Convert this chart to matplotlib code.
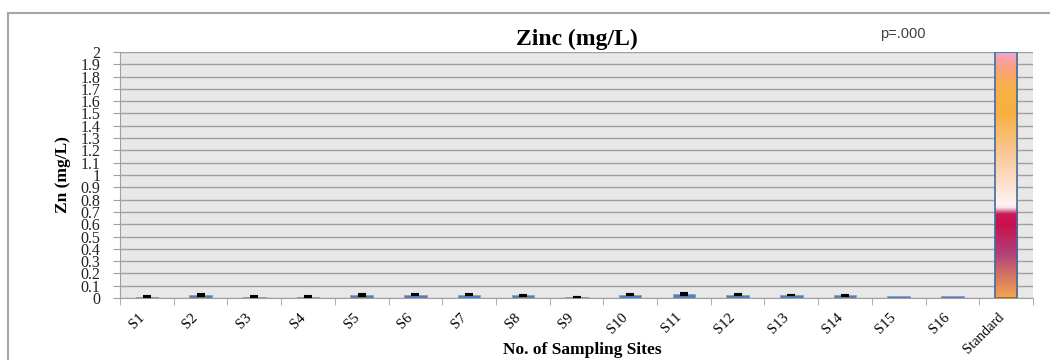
import numpy as np
import matplotlib
matplotlib.use("Agg")
import matplotlib.pyplot as plt
from matplotlib.colors import LinearSegmentedColormap
from matplotlib.patches import Rectangle

# values (mg/L)
sites = ['S1', 'S2', 'S3', 'S4', 'S5', 'S6', 'S7', 'S8', 'S9', 'S10',
         'S11', 'S12', 'S13', 'S14', 'S15', 'S16', 'Standard']
zn_mean = [0.010, 0.025, 0.010, 0.010, 0.025, 0.026, 0.025, 0.021, 0.008, 0.025,
           0.034, 0.028, 0.025, 0.022, 0.020, 0.020, 2.0]
zn_err = [0.003, 0.006, 0.003, 0.003, 0.006, 0.004, 0.004, 0.004, 0.003, 0.004,
          0.007, 0.006, 0.003, 0.005, 0.0, 0.0, 0.0]
y_ticks = [round(v * 0.1, 1) for v in range(21)]
p_text = 'p=.000'

serif = ['Liberation Serif', 'DejaVu Serif']
sans = ['Liberation Sans', 'DejaVu Sans']

fig = plt.figure(figsize=[10.5, 3.6], dpi=100)
ax = fig.add_axes([0.1143, 0.1722, 0.8695, 0.6834])

# outer frame of the chart
fig.patches.append(Rectangle((8 / 1050, -0.05), 1.1, 1 - 13 / 360 + 0.05,
                             transform=fig.transFigure, fill=False,
                             edgecolor='#a6a6a6', linewidth=1.5))

ax.set_facecolor('#e8e8e8')
x = np.arange(len(sites))
n = len(sites) - 1
bars = ax.bar(x[:n], zn_mean[:n], width=0.42, color='#4f81bd', edgecolor='#7fa0cf',
              linewidth=0.6, zorder=3)
has_err = [i for i in range(n) if zn_err[i] > 0]
ax.errorbar([x[i] for i in has_err], [zn_mean[i] for i in has_err],
            yerr=[zn_err[i] for i in has_err], fmt='none', ecolor='black',
            elinewidth=3, capsize=3, capthick=1.5, zorder=4)

# the standard bar with its colour gradient
std = ax.bar(x[n], zn_mean[n], width=0.42, color='none', edgecolor='#4a6a9a',
             linewidth=1.2, zorder=5)[0]
grad = LinearSegmentedColormap.from_list('std', [
    (0.0, '#f2a650'), (0.08, '#d87a5e'), (0.18, '#b0407a'), (0.3, '#c8104c'),
    (0.34, '#cc1a55'), (0.365, '#fbe0ee'), (0.38, '#fff4f4'), (0.48, '#fcdcc4'),
    (0.6, '#fac690'), (0.75, '#f8b040'), (0.86, '#f8b048'), (0.93, '#f9a27c'),
    (1.0, '#f8a0c8')])
img = ax.imshow(np.linspace(0, 1, 256).reshape(-1, 1), cmap=grad, origin='lower',
                aspect='auto', zorder=4,
                extent=[std.get_x(), std.get_x() + std.get_width(), 0, std.get_height()])
img.set_clip_path(std)

ax.set_xlim(-0.5, len(sites) - 0.5)
ax.set_ylim(0, 2)
ax.set_yticks(y_ticks)
ax.set_yticklabels([('%g' % v) for v in y_ticks], fontfamily=serif, fontsize=11.5,
                   color='#222222')
ax.grid(axis='y', color='#a0a0a0', linewidth=1, zorder=1)
ax.set_axisbelow(True)

ax.set_xticks(x)
ax.set_xticklabels(sites, rotation=45, ha='right', fontfamily=serif, fontsize=10.5)
ax.set_xticks(np.arange(-0.5, len(sites), 1), minor=True)
ax.tick_params(axis='x', which='major', length=0, pad=9)
ax.tick_params(axis='x', which='minor', length=5, color='#a0a0a0')
ax.tick_params(axis='y', length=5, color='#a0a0a0', pad=9)

for side in ['top', 'right']:
    ax.spines[side].set_visible(False)
ax.spines['left'].set_color('#a0a0a0')
ax.spines['bottom'].set_color('#a0a0a0')

ax.set_title('Zinc (mg/L)', fontfamily=serif, fontweight='bold', fontsize=17, pad=5)
fig.text(582 / 1050, 1 - 350 / 360, 'No. of Sampling Sites', fontfamily=serif,
         fontweight='bold', fontsize=12.5, ha='center', va='center')
fig.text(63 / 1050, 0.5 * (0.1722 + 0.8556), 'Zn (mg/L)', fontfamily=serif,
         fontweight='bold', fontsize=12.5, rotation=90, ha='center', va='center')
fig.text(903 / 1050, 1 - 34 / 360, p_text, fontfamily=sans, fontsize=10.5,
         color='#404040', ha='center', va='center')

plt.savefig('out.png', dpi=100)
